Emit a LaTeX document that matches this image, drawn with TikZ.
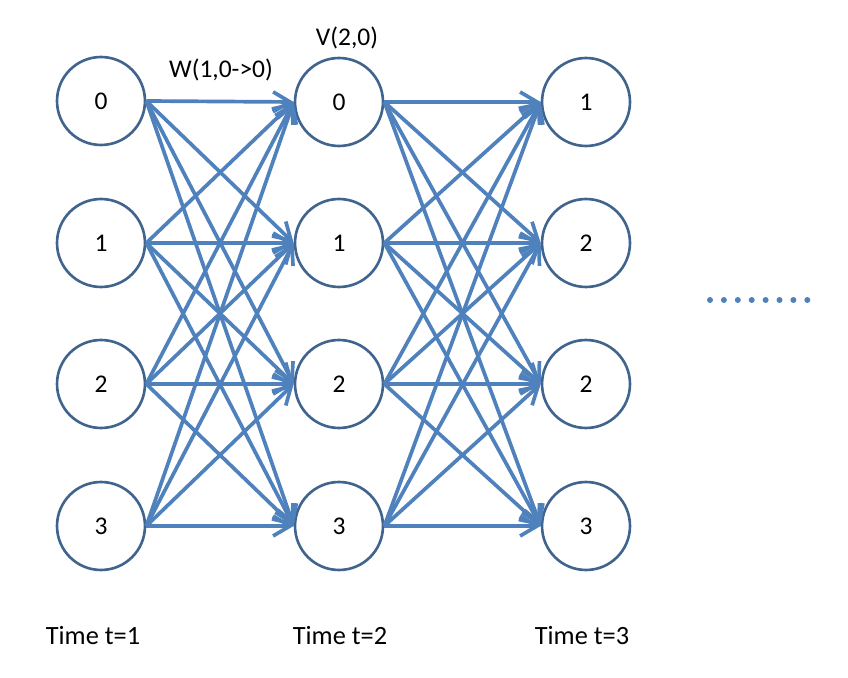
\documentclass[tikz,border=0pt]{standalone}
\usepackage{fontspec}
\setmainfont{Carlito}
\usetikzlibrary{arrows.meta}
\definecolor{ringblue}{HTML}{41648F}
\definecolor{edgeblue}{HTML}{4F81BD}

\begin{document}
\begin{tikzpicture}[
    x = 0.02cm, y = -0.02cm,
    every node/.style = {font = \fontsize{14.5}{17}\selectfont},
    state/.style = {draw = ringblue, circle, line width = 1.5pt,
                    minimum size = 1.76cm, inner sep = 0pt},
    trans/.style = {draw = edgeblue, line width = 2.1pt,
                    -{Straight Barb[length = 3.4mm, width = 4mm]}},
    timelabel/.style = {anchor = base, font = \fontsize{15}{18}\selectfont}
  ]
  \useasboundingbox (0,0) rectangle (848,678);

  % time t=1
  \node[state] (a0) at (101,101) {0};
  \node[state] (a1) at (101,243) {1};
  \node[state] (a2) at (101,384) {2};
  \node[state] (a3) at (101,526) {3};
  % time t=2
  \node[state] (b0) at (339,102) {0};
  \node[state] (b1) at (339,243) {1};
  \node[state] (b2) at (339,384) {2};
  \node[state] (b3) at (339,526) {3};
  % time t=3
  \node[state] (c0) at (586,102) {1};
  \node[state] (c1) at (586,243) {2};
  \node[state] (c2) at (586,384) {2};
  \node[state] (c3) at (586,526) {3};

  % transitions
  \foreach \s/\t in {a/b, b/c}
    \foreach \i in {0,...,3}
      \foreach \j in {0,...,3}
        \draw[trans] (\s\i.east) -- (\t\j.west);

  % Labels
  \node (vlabel) at (347,38) {V(2,0)};
  \node (wlabel) at (221,70) {W(1,0->0)};
  \node[timelabel] (time1) at (93,644)  {Time t=1};
  \node[timelabel] (time2) at (340,644) {Time t=2};
  \node[timelabel] (time3) at (582,644) {Time t=3};

  % more steps
  \foreach \k in {0,...,7}
    \fill[edgeblue] (710+\k*13.9,300) circle (0.06cm);
\end{tikzpicture}
\end{document}
